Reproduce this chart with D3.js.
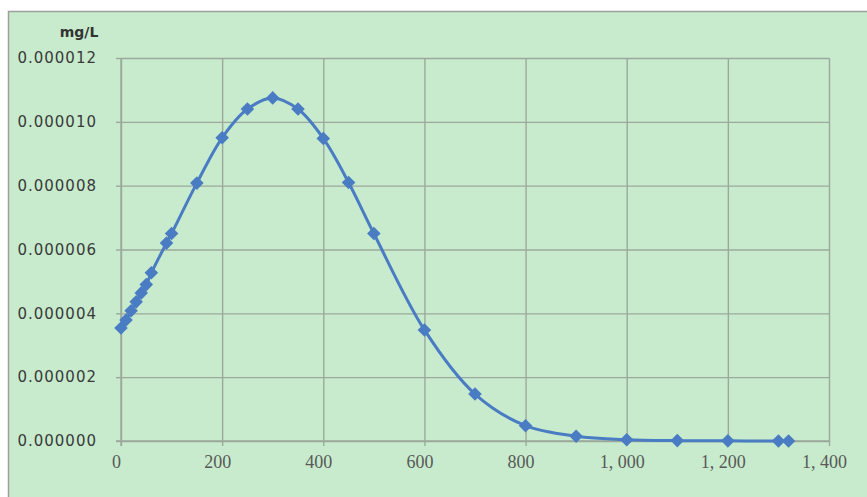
<!DOCTYPE html>
<html>
<head>
<meta charset="utf-8">
<script src="https://cdn.jsdelivr.net/npm/d3@7"></script>
<style>
  body { margin: 0; background: #fff; }
  svg { display: block; }
</style>
</head>
<body>
<script>
// distance (m) and concentration (mg/L)
var distance = [0, 10, 20, 30, 40, 50, 60, 90, 100, 150, 200, 250, 300, 350, 400, 450, 500, 600, 700, 800, 900, 1000, 1100, 1200, 1300, 1320];
var concentration = [3.54e-6, 3.79e-6, 4.08e-6, 4.36e-6, 4.64e-6, 4.9e-6, 5.27e-6, 6.2e-6, 6.5e-6, 8.08e-6, 9.5e-6, 10.4e-6, 10.75e-6, 10.4e-6, 9.48e-6, 8.1e-6, 6.5e-6, 3.48e-6, 1.47e-6, 0.48e-6, 0.15e-6, 0.04e-6, 0.012e-6, 0.004e-6, 0.001e-6, 0.001e-6];
var xTicks = [0, 200, 400, 600, 800, 1000, 1200, 1400];
var yTicks = [0, 2e-6, 4e-6, 6e-6, 8e-6, 10e-6, 12e-6];
var unitLabel = 'mg/L';

var W = 867, H = 497;
var margin = { top: 58, right: 38, bottom: 56, left: 121 };
var width = W - margin.left - margin.right;
var height = H - margin.top - margin.bottom;

var svg = d3.select('body').append('svg')
	.attr('width', W)
	.attr('height', H);

// chart background with border
svg.append('rect')
	.attr('x', 8.5).attr('y', 11.5)
	.attr('width', W + 10).attr('height', H + 10)
	.attr('fill', '#c7ebcc')
	.attr('stroke', '#9e9e9e')
	.attr('stroke-width', 1.5);

var g = svg.append('g')
	.attr('transform', `translate(${margin.left}, ${margin.top})`);

var data = distance.map(function(d, i) { return { x: d, y: concentration[i] }; });

var xScale = d3.scaleLinear().domain([0, 1400]).range([0, width]);
var yScale = d3.scaleLinear().domain([0, 12e-6]).range([height, 0]);

var gridColor = '#9ca89d';

// gridlines
g.append('g')
	.attr('class', 'grid')
	.attr('transform', `translate(0, ${height})`)
	.call(d3.axisBottom(xScale).tickValues(xTicks).tickSize(-height).tickFormat(''));

g.append('g')
	.attr('class', 'grid')
	.call(d3.axisLeft(yScale).tickValues(yTicks).tickSize(-width).tickFormat(''));

g.selectAll('.grid .domain').remove();
g.selectAll('.grid line')
	.attr('stroke', gridColor)
	.attr('stroke-width', 1.4);

// x axis
var xAxis = g.append('g')
	.attr('transform', `translate(0, ${height})`)
	.call(d3.axisBottom(xScale).tickValues(xTicks).tickSize(5).tickSizeOuter(0)
		.tickFormat(function(d) { return d3.format(',')(d).replace(',', ', '); }));

xAxis.select('.domain').attr('stroke', gridColor).attr('stroke-width', 1.4)
	.attr('d', `M-5,0H${width}`);
xAxis.selectAll('line').attr('stroke', gridColor).attr('stroke-width', 1.4);
xAxis.selectAll('text')
	.attr('dx', -5)
	.attr('dy', '1.05em')
	.attr('fill', '#595959')
	.style('font-family', '"Liberation Serif", "DejaVu Serif", serif')
	.style('font-size', '18px');

// y axis
var yAxis = g.append('g')
	.call(d3.axisLeft(yScale).tickValues(yTicks).tickSize(5).tickSizeOuter(0)
		.tickFormat(d3.format('.6f')));

yAxis.select('.domain').attr('stroke', gridColor).attr('stroke-width', 1.4)
	.attr('d', `M0,0V${height + 5}`);
yAxis.selectAll('line').attr('stroke', gridColor).attr('stroke-width', 1.4);
yAxis.selectAll('text')
	.attr('x', -24)
	.attr('fill', '#3a3a3a')
	.style('font-family', '"DejaVu Sans", sans-serif')
	.style('font-size', '15px')
	.style('letter-spacing', '1px');

// unit label
svg.append('text')
	.attr('x', 79).attr('y', 37)
	.attr('text-anchor', 'middle')
	.attr('fill', '#333')
	.style('font-family', '"DejaVu Sans", sans-serif')
	.style('font-weight', 'bold')
	.style('font-size', '14px')
	.text(unitLabel);

// smoothed line
var valueLine = d3.line()
	.x(function(d) { return xScale(d.x); })
	.y(function(d) { return yScale(d.y); })
	.curve(d3.curveCatmullRom.alpha(0.5));

g.append('path')
	.datum(data)
	.attr('fill', 'none')
	.attr('stroke', '#4a7cc4')
	.attr('stroke-width', 3)
	.attr('d', valueLine);

// diamond markers
g.selectAll('.marker')
	.data(data)
	.enter().append('path')
	.attr('class', 'marker')
	.attr('d', d3.symbol().type(d3.symbolSquare).size(92))
	.attr('transform', function(d) { return `translate(${xScale(d.x)}, ${yScale(d.y)}) rotate(45)`; })
	.attr('fill', '#4a7cc4');
</script>
</body>
</html>
